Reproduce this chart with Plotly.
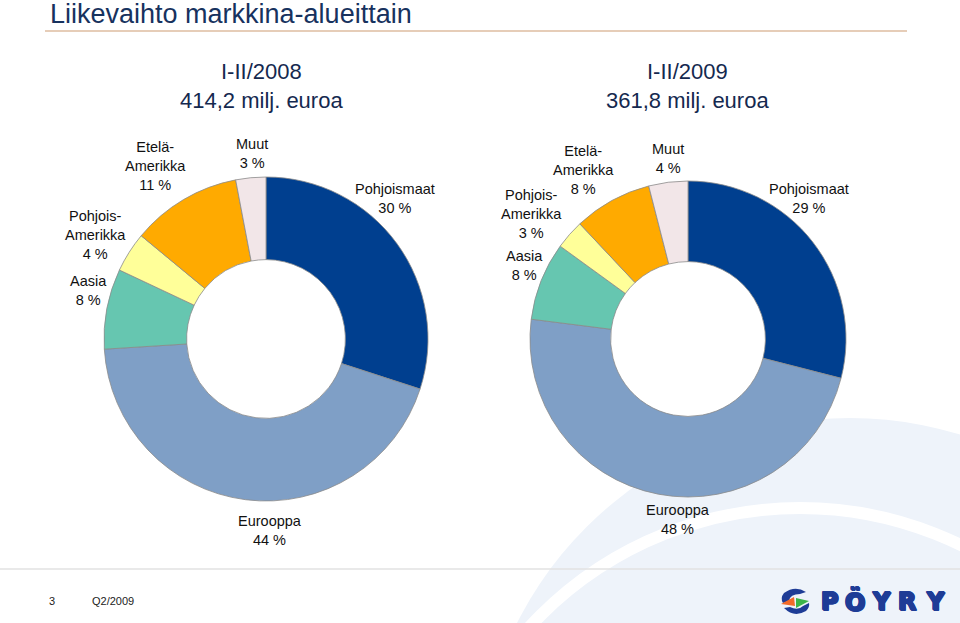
import plotly.graph_objects as go

# ---- data ----
regions = ["Pohjoismaat", "Eurooppa", "Aasia", "Pohjois-Amerikka", "Etelä-Amerikka", "Muut"]
region_labels = ["Pohjoismaat", "Eurooppa", "Aasia", "Pohjois-<br>Amerikka", "Etelä-<br>Amerikka", "Muut"]
share_2008 = [30, 44, 8, 4, 11, 3]
share_2009 = [29, 48, 8, 3, 8, 4]
period_2008 = "I-II/2008"
period_2009 = "I-II/2009"
total_2008 = "414,2 milj. euroa"
total_2009 = "361,8 milj. euroa"
title_text = "Liikevaihto markkina-alueittain"

# ---- styling / layout ----
W, H = 960, 623
colors = ["#003F8F", "#7F9FC6", "#66C6B0", "#FFFF99", "#FFAA00", "#F2E6E8"]
FONT = "Liberation Sans, Arial, sans-serif"
NAVY = "#17325E"
LOGO = "#1E3C96"

def px(x):
    return x / W

def py(y):
    return 1 - y / H

# pie centres / radii in pixels
pies = [
    dict(values=share_2008, cx=266, cy=339, r=162),
    dict(values=share_2009, cx=688, cy=339, r=158),
]

# label positions (pixel centres of the label blocks)
label_pos = [
    [(395, 198), (270, 530), (88, 290), (95, 235), (155, 166), (252, 153)],
    [(809, 199), (678, 519), (524, 265), (531, 214), (583, 170), (668, 158)],
]

fig = go.Figure()
for p in pies:
    fig.add_trace(go.Pie(
        labels=regions,
        values=p["values"],
        hole=0.49,
        sort=False,
        direction="clockwise",
        rotation=0,
        textinfo="none",
        hoverinfo="label+percent",
        showlegend=False,
        marker=dict(colors=colors, line=dict(color="#8a8a8a", width=0.8)),
        domain=dict(x=[px(p["cx"] - p["r"]), px(p["cx"] + p["r"])],
                    y=[py(p["cy"] + p["r"]), py(p["cy"] - p["r"])]),
    ))

annotations = []
for k, p in enumerate(pies):
    for i, lab in enumerate(region_labels):
        x, y = label_pos[k][i]
        annotations.append(dict(
            x=px(x), y=py(y), xref="paper", yref="paper",
            text=f"{lab}<br>{p['values'][i]} %", showarrow=False,
            xanchor="center", yanchor="middle", align="center",
            font=dict(family=FONT, size=14.5, color="#111111"),
        ))

# title and subtitles
annotations.append(dict(x=px(48), y=py(14), xref="paper", yref="paper", text=title_text,
                        showarrow=False, xanchor="left", yanchor="middle",
                        font=dict(family=FONT, size=27, color=NAVY)))
for cx, per, tot in [(261, period_2008, total_2008), (687, period_2009, total_2009)]:
    annotations.append(dict(x=px(cx), y=py(86), xref="paper", yref="paper",
                            text=f"{per}<br>{tot}", showarrow=False,
                            xanchor="center", yanchor="middle", align="center",
                            font=dict(family=FONT, size=22, color="#15294F")))

# footer
annotations.append(dict(x=px(52), y=py(601), xref="paper", yref="paper", text="3",
                        showarrow=False, xanchor="center", yanchor="middle",
                        font=dict(family=FONT, size=11, color="#222222")))
annotations.append(dict(x=px(113), y=py(601), xref="paper", yref="paper", text="Q2/2009",
                        showarrow=False, xanchor="center", yanchor="middle",
                        font=dict(family=FONT, size=11, color="#222222")))
# logo letters
shadow = (f"1px 0 0 {LOGO}, -1px 0 0 {LOGO}, 0 1px 0 {LOGO}, 0 -1px 0 {LOGO}, "
          f"1px 1px 0 {LOGO}, -1px -1px 0 {LOGO}")
for ch, x in zip("PÖYRY", [830, 855, 881, 907, 935]):
    annotations.append(dict(x=px(x), y=py(602), xref="paper", yref="paper", text=ch,
                            showarrow=False, xanchor="center", yanchor="middle",
                            font=dict(family="DejaVu Sans, sans-serif", size=24,
                                      weight="bold", color=LOGO, shadow=shadow)))

shapes = [
    # background swoosh
    dict(type="circle", xref="paper", yref="paper", layer="below",
         x0=px(850 - 373), x1=px(850 + 373), y0=py(791 + 373), y1=py(791 - 373),
         fillcolor="#EEF3FA", line=dict(width=0)),
    dict(type="circle", xref="paper", yref="paper", layer="below",
         x0=px(800 - 367), x1=px(800 + 367), y0=py(875 + 367), y1=py(875 - 367),
         fillcolor="rgba(0,0,0,0)", line=dict(color="white", width=12)),
    # title rule
    dict(type="line", xref="paper", yref="paper", x0=px(45), x1=px(907), y0=py(31), y1=py(31),
         line=dict(color="#E6CDB8", width=2)),
    # footer rule
    dict(type="line", xref="paper", yref="paper", x0=0, x1=1, y0=py(569), y1=py(569),
         line=dict(color="#E2E2E2", width=1.5)),
    # logo icon
    dict(type="path", xref="paper", yref="paper",
         path=f"M {px(806)} {py(592)} Q {px(795)} {py(585)} {px(784)} {py(593)} "
              f"Q {px(780)} {py(598)} {px(783)} {py(603)} L {px(789)} {py(601)} "
              f"Q {px(790)} {py(594)} {px(800)} {py(594)} Z",
         fillcolor=LOGO, line=dict(width=0)),
    dict(type="path", xref="paper", yref="paper",
         path=f"M {px(781)} {py(604)} L {px(794)} {py(597)} L {px(795)} {py(606)} Z",
         fillcolor="#F26A2A", line=dict(width=0)),
    dict(type="path", xref="paper", yref="paper",
         path=f"M {px(809)} {py(601)} L {px(796)} {py(598)} L {px(796)} {py(608)} Z",
         fillcolor="#3BB54A", line=dict(width=0)),
    dict(type="path", xref="paper", yref="paper",
         path=f"M {px(784)} {py(608)} Q {px(794)} {py(618)} {px(806)} {py(611)} "
              f"Q {px(810)} {py(607)} {px(809)} {py(603)} L {px(803)} {py(606)} "
              f"Q {px(798)} {py(611)} {px(790)} {py(607)} Z",
         fillcolor=LOGO, line=dict(width=0)),
]

fig.update_layout(
    width=W, height=H,
    margin=dict(l=0, r=0, t=0, b=0),
    paper_bgcolor="white", plot_bgcolor="white",
    annotations=annotations, shapes=shapes,
)
fig.write_html("out.html", config={"displayModeBar": False},
               post_script="document.body.style.margin='0';")
